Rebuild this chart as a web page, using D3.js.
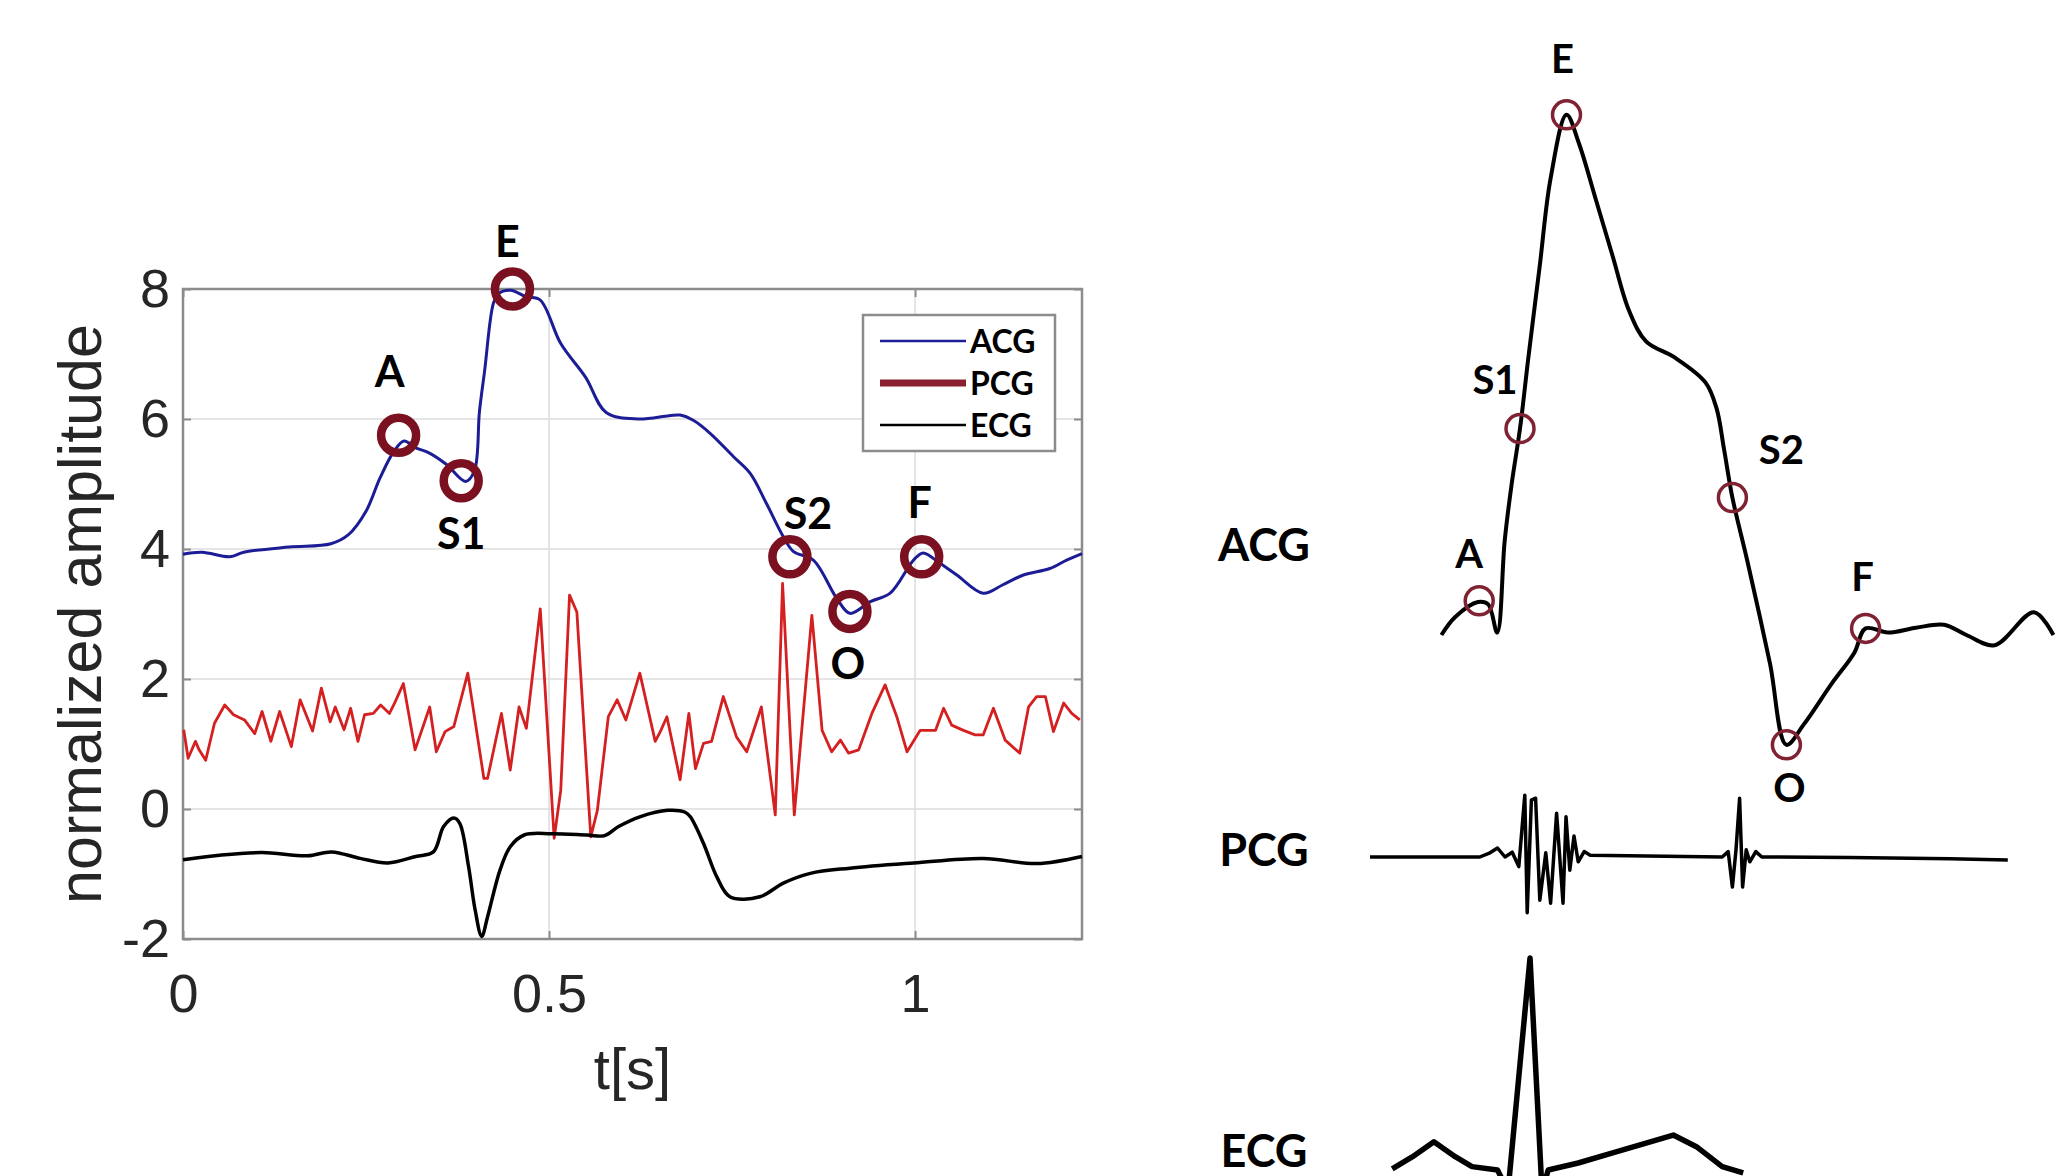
<!DOCTYPE html>
<html>
<head>
<meta charset="utf-8">
<script src="https://cdn.jsdelivr.net/npm/d3@7"></script>
<style>
  html, body { margin: 0; padding: 0; background: #fff; }
  svg { display: block; }
</style>
</head>
<body>
<div id="plot-container"></div>
<script>
// ---------- data (left: measured signals, right: schematic) ----------
const xTicks = [0, 0.5, 1];
const yTicks = [-2, 0, 2, 4, 6, 8];
const seriesNames = ["ACG", "PCG", "ECG"];
const markerNames = ["A", "S1", "E", "S2", "O", "F"];

// [t (s), normalized amplitude]
const acgLeft = [[0,3.92],[0.026,3.95],[0.064,3.88],[0.083,3.95],[0.145,4.03],[0.202,4.08],[0.226,4.22],[0.25,4.58],
  [0.269,5.09],[0.288,5.5],[0.302,5.66],[0.317,5.56],[0.336,5.48],[0.36,5.3],[0.386,5.04],[0.398,5.2],[0.405,6.12],
  [0.412,6.74],[0.424,7.78],[0.431,7.93],[0.4475,7.98],[0.469,7.88],[0.488,7.83],[0.516,7.16],[0.55,6.64],[0.578,6.1],
  [0.621,6.0],[0.664,6.05],[0.679,6.06],[0.697,5.98],[0.72,5.78],[0.752,5.42],[0.775,5.16],[0.797,4.7],[0.82,4.19],
  [0.834,3.96],[0.861,3.83],[0.893,3.24],[0.911,3.01],[0.939,3.19],[0.966,3.32],[0.998,3.83],[1.011,3.94],[1.034,3.78],
  [1.057,3.6],[1.093,3.32],[1.12,3.45],[1.148,3.6],[1.184,3.7],[1.207,3.83],[1.228,3.93]];

const pcgLeft = [[0.001,1.22],[0.007,0.78],[0.017,1.04],[0.022,0.91],[0.031,0.75],[0.043,1.32],[0.057,1.6],[0.069,1.45],
  [0.084,1.37],[0.098,1.16],[0.108,1.5],[0.12,1.04],[0.132,1.5],[0.148,0.96],[0.16,1.68],[0.177,1.2],[0.189,1.86],
  [0.201,1.34],[0.208,1.57],[0.22,1.22],[0.229,1.55],[0.239,1.04],[0.248,1.45],[0.26,1.47],[0.27,1.6],[0.282,1.47],
  [0.289,1.63],[0.301,1.93],[0.317,0.91],[0.337,1.57],[0.346,0.88],[0.358,1.19],[0.37,1.27],[0.389,2.09],[0.411,0.47],
  [0.416,0.47],[0.435,1.47],[0.447,0.6],[0.459,1.57],[0.469,1.24],[0.488,3.08],[0.507,-0.45],[0.516,0.29],[0.528,3.29],
  [0.538,3.03],[0.557,-0.43],[0.566,-0.02],[0.581,1.42],[0.593,1.68],[0.605,1.37],[0.624,2.09],[0.645,1.04],[0.652,1.19],
  [0.661,1.42],[0.679,0.45],[0.691,1.47],[0.7,0.62],[0.711,1.01],[0.722,1.04],[0.738,1.73],[0.756,1.11],[0.77,0.88],
  [0.79,1.57],[0.809,-0.09],[0.819,3.47],[0.835,-0.09],[0.859,2.98],[0.873,1.21],[0.886,0.88],[0.898,1.06],[0.909,0.86],
  [0.923,0.91],[0.941,1.47],[0.959,1.91],[0.975,1.42],[0.989,0.88],[1.007,1.21],[1.028,1.21],[1.039,1.55],[1.05,1.29],
  [1.066,1.21],[1.082,1.14],[1.093,1.14],[1.107,1.55],[1.123,1.06],[1.143,0.86],[1.155,1.57],[1.166,1.73],[1.178,1.73],
  [1.189,1.19],[1.203,1.63],[1.214,1.47],[1.225,1.37]];

const ecgLeft = [[0,-0.78],[0.05,-0.71],[0.108,-0.67],[0.17,-0.72],[0.203,-0.66],[0.242,-0.76],[0.28,-0.83],[0.318,-0.73],
  [0.342,-0.66],[0.356,-0.27],[0.37,-0.14],[0.378,-0.22],[0.39,-0.88],[0.399,-1.55],[0.408,-1.96],[0.416,-1.66],
  [0.433,-0.94],[0.447,-0.58],[0.466,-0.4],[0.504,-0.38],[0.552,-0.4],[0.576,-0.41],[0.595,-0.27],[0.624,-0.12],
  [0.662,-0.02],[0.686,-0.05],[0.693,-0.12],[0.711,-0.53],[0.729,-1.04],[0.747,-1.35],[0.788,-1.35],[0.82,-1.14],
  [0.857,-0.99],[0.911,-0.91],[0.998,-0.83],[1.093,-0.76],[1.166,-0.84],[1.228,-0.73]];

// fiducial points on the ACG, same order as markerNames
const markersLeft = [[0.2945,5.75],[0.38,5.05],[0.45,8.0],[0.829,3.88],[0.911,3.04],[1.009,3.88]];

// schematic traces (arbitrary units)
const acgRight = [[0.119,0.75],[0.142,1.05],[0.18,1.3],[0.197,1.26],[0.212,0.79],[0.2245,2.32],[0.236,3.26],[0.25,4.19],
  [0.264,5.38],[0.283,6.91],[0.301,8.36],[0.3275,9.42],[0.348,8.95],[0.376,8.02],[0.404,7.08],[0.432,6.15],[0.4605,5.64],
  [0.507,5.38],[0.559,4.96],[0.5775,4.53],[0.59,3.85],[0.604,3.04],[0.629,1.98],[0.6665,0.28],[0.694,-1.08],[0.723,-0.74],
  [0.7695,-0.06],[0.807,0.45],[0.826,0.86],[0.863,0.79],[0.91,0.87],[0.957,0.92],[0.994,0.75],[1.041,0.58],[1.1065,1.13],
  [1.139,0.75]];

const pcgRight = [[0,0],[0.183,0],[0.2,0.07],[0.2125,0.15],[0.225,0],[0.237,0.08],[0.248,-0.16],[0.258,1.03],[0.262,-0.93],
  [0.269,0.95],[0.276,0.98],[0.283,-0.72],[0.293,0.07],[0.301,-0.77],[0.311,0.73],[0.3217,-0.77],[0.3267,0.67],[0.333,-0.22],
  [0.34,0.35],[0.347,-0.08],[0.357,0.09],[0.367,0.03],[0.587,0],[0.597,0.09],[0.604,-0.5],[0.61,0.12],[0.616,0.98],
  [0.621,-0.5],[0.627,0.12],[0.633,-0.08],[0.643,0.09],[0.653,0],[0.8,-0.01],[0.967,-0.03],[1.063,-0.05]];

const ecgRight = [[0.037,0.005],[0.071,0.063],[0.1065,0.133],[0.142,0.063],[0.17,0.016],[0.2125,0],[0.23,-0.1],[0.2667,1.0],
  [0.2867,-0.1],[0.297,0],[0.347,0.033],[0.403,0.08],[0.46,0.127],[0.5055,0.165],[0.544,0.11],[0.587,0.016],[0.622,-0.014]];

const markersRight = [[0.182,1.32],[0.25,4.19],[0.3275,9.42],[0.604,3.04],[0.694,-1.08],[0.826,0.86]];

// ---------- layout ----------
const W = 2065, H = 1176;
const svg = d3.select("#plot-container")
  .append("svg")
    .attr("width", W)
    .attr("height", H);

const tickFont = "'Liberation Sans', Arial, sans-serif";
const boldFont = "Lato, 'Open Sans', sans-serif";

// left panel scales
const x = d3.scaleLinear().domain([0, 1.228]).range([183, 1082]);
const y = d3.scaleLinear().domain([-2, 8]).range([939, 289]);

// grid
const grid = svg.append("g");
grid.selectAll(".gx").data(xTicks.slice(1)).enter().append("line")
    .attr("x1", d => x(d)).attr("x2", d => x(d))
    .attr("y1", y(-2)).attr("y2", y(8))
    .attr("stroke", "#dcdcdc").attr("stroke-width", 1.5);
grid.selectAll(".gy").data(yTicks.slice(1, -1)).enter().append("line")
    .attr("x1", x(0)).attr("x2", x(1.228))
    .attr("y1", d => y(d)).attr("y2", d => y(d))
    .attr("stroke", "#dcdcdc").attr("stroke-width", 1.5);

// axes (MATLAB style: ticks pointing in, box on)
function style_axis(g, labels){
    g.select(".domain").remove();
    g.selectAll(".tick line").attr("stroke", "#8c8c8c").attr("stroke-width", 2);
    g.selectAll("text")
        .attr("fill", "#262626")
        .style("font-family", tickFont)
        .style("font-size", "54px");
    if (!labels) g.selectAll("text").remove();
}

svg.append("g")
    .attr("transform", `translate(0,${y(-2)})`)
    .call(d3.axisBottom(x).tickValues(xTicks).tickSizeInner(-8).tickSizeOuter(0).tickPadding(35)
        .tickFormat(d => String(d)))
    .call(g => style_axis(g, true));
svg.append("g")
    .attr("transform", `translate(${x(0)},0)`)
    .call(d3.axisLeft(y).tickValues(yTicks).tickSizeInner(-8).tickSizeOuter(0).tickPadding(13)
        .tickFormat(d => String(d)))
    .call(g => style_axis(g, true));
svg.append("g")
    .attr("transform", `translate(0,${y(8)})`)
    .call(d3.axisTop(x).tickValues(xTicks).tickSizeInner(-8).tickSizeOuter(0))
    .call(g => style_axis(g, false));
svg.append("g")
    .attr("transform", `translate(${x(1.228)},0)`)
    .call(d3.axisRight(y).tickValues(yTicks).tickSizeInner(-8).tickSizeOuter(0))
    .call(g => style_axis(g, false));

svg.append("rect")
    .attr("x", x(0)).attr("y", y(8))
    .attr("width", x(1.228) - x(0)).attr("height", y(-2) - y(8))
    .attr("fill", "none").attr("stroke", "#8c8c8c").attr("stroke-width", 2.5);

// axis labels
svg.append("text")
    .attr("text-anchor", "middle")
    .attr("x", (x(0) + x(1.228)) / 2)
    .attr("y", 1089)
    .attr("fill", "#262626")
    .style("font-family", tickFont).style("font-size", "58px")
    .text("t[s]");
svg.append("text")
    .attr("text-anchor", "middle")
    .attr("transform", `translate(101,${(y(8) + y(-2)) / 2}) rotate(-90)`)
    .attr("fill", "#262626")
    .style("font-family", tickFont).style("font-size", "61px")
    .text("normalized amplitude");

// signals
const leftColors = ["#1c1c96", "#d42020", "#000000"];
const leftWidths = [3, 2.8, 3.5];
const leftCurves = [d3.curveCatmullRom, d3.curveLinear, d3.curveCatmullRom];
[acgLeft, pcgLeft, ecgLeft].forEach((s, i) => {
    svg.append("path")
        .datum(s)
        .attr("d", d3.line().curve(leftCurves[i]).x(d => x(d[0])).y(d => y(d[1])))
        .attr("fill", "none")
        .attr("stroke", leftColors[i])
        .attr("stroke-width", leftWidths[i])
        .attr("stroke-linejoin", "round");
});

// legend
const legend = svg.append("g");
legend.append("rect")
    .attr("x", 863).attr("y", 315).attr("width", 192).attr("height", 136)
    .attr("fill", "#fff").attr("stroke", "#8c8c8c").attr("stroke-width", 2.5);
const legendColors = ["#1c1c96", "#8a2030", "#000000"];
const legendWidths = [2.5, 7, 2.5];
seriesNames.forEach((name, i) => {
    const ly = 341 + i * 42;
    legend.append("line")
        .attr("x1", 880).attr("x2", 966).attr("y1", ly).attr("y2", ly)
        .attr("stroke", legendColors[i]).attr("stroke-width", legendWidths[i]);
    legend.append("text")
        .attr("x", 970).attr("y", ly).attr("dy", "0.36em")
        .style("font-family", boldFont).style("font-weight", 700).style("font-size", "32px")
        .text(name);
});

// fiducial markers + labels
const leftLabelOffsets = [[-9,-64],[0,53],[-5,-47],[18,-43],[-2,52],[-2,-54]];
markersLeft.forEach((m, i) => {
    svg.append("circle")
        .attr("cx", x(m[0])).attr("cy", y(m[1])).attr("r", 17.5)
        .attr("fill", "none").attr("stroke", "#7a1020").attr("stroke-width", 8.5);
    svg.append("text")
        .attr("text-anchor", "middle")
        .attr("x", x(m[0]) + leftLabelOffsets[i][0])
        .attr("y", y(m[1]) + leftLabelOffsets[i][1])
        .attr("dy", "0.36em")
        .style("font-family", boldFont).style("font-weight", 700).style("font-size", "43px")
        .text(markerNames[i]);
});

// ---------- right panel (schematic) ----------
const xR = d3.scaleLinear().domain([0, 1.15]).range([1370, 2060]);
const yAcgR = d3.scaleLinear().domain([0, 10]).range([680, 80]);
const yPcgR = d3.scaleLinear().domain([-1, 1]).range([917, 797]);
const yEcgR = d3.scaleLinear().domain([0, 1]).range([1170, 958]);

const rightScales = [yAcgR, yPcgR, yEcgR];
const rightWidths = [4, 3.5, 5.5];
const rightCurves = [d3.curveCatmullRom.alpha(0.5), d3.curveLinear, d3.curveLinear];
[acgRight, pcgRight, ecgRight].forEach((s, i) => {
    svg.append("path")
        .datum(s)
        .attr("d", d3.line().curve(rightCurves[i]).x(d => xR(d[0])).y(d => rightScales[i](d[1])))
        .attr("fill", "none")
        .attr("stroke", "#000")
        .attr("stroke-width", rightWidths[i])
        .attr("stroke-linejoin", "round");
});

// trace names
const rightNameY = [561, 866, 1167];
seriesNames.forEach((name, i) => {
    svg.append("text")
        .attr("text-anchor", "middle")
        .attr("x", 1264).attr("y", rightNameY[i])
        .style("font-family", boldFont).style("font-weight", 700).style("font-size", "45px")
        .text(name);
});

const rightLabelOffsets = [[-10,-47],[-25,-49],[-4,-56],[49,-48],[3,43],[-3,-52]];
markersRight.forEach((m, i) => {
    svg.append("circle")
        .attr("cx", xR(m[0])).attr("cy", yAcgR(m[1])).attr("r", 14)
        .attr("fill", "none").attr("stroke", "#7f2333").attr("stroke-width", 3.5);
    svg.append("text")
        .attr("text-anchor", "middle")
        .attr("x", xR(m[0]) + rightLabelOffsets[i][0])
        .attr("y", yAcgR(m[1]) + rightLabelOffsets[i][1])
        .attr("dy", "0.36em")
        .style("font-family", boldFont).style("font-weight", 700).style("font-size", "40px")
        .text(markerNames[i]);
});
</script>
</body>
</html>
